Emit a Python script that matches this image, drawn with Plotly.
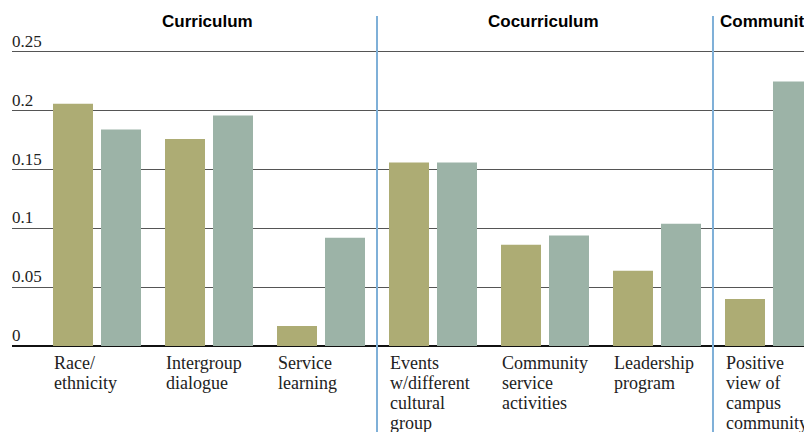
import plotly.graph_objects as go

categories = [["Race/", "ethnicity"], ["Intergroup", "dialogue"], ["Service", "learning"],
              ["Events", "w/different", "cultural", "group"], ["Community", "service", "activities"],
              ["Leadership", "program"], ["Positive", "view of", "campus", "community"]]
series_a = [0.206, 0.176, 0.017, 0.156, 0.086, 0.064, 0.040]
series_b = [0.184, 0.196, 0.092, 0.156, 0.094, 0.104, 0.225]
y_ticks = [0, 0.05, 0.1, 0.15, 0.2, 0.25]
y_tick_labels = ["0", "0.05", "0.1", "0.15", "0.2", "0.25"]
sections = ["Curriculum", "Cocurriculum", "Community"]
section_centers = [1, 4, 6]
dividers = [2.5, 5.5]

OLIVE = "#adac74"
SAGE = "#9cb3a7"
SERIF = "Liberation Serif"

x = list(range(len(categories)))

fig = go.Figure()
fig.add_trace(go.Bar(x=x, y=series_a, marker_color=OLIVE, marker_line_width=0, name="A"))
fig.add_trace(go.Bar(x=x, y=series_b, marker_color=SAGE, marker_line_width=0, name="B"))

# page body adds an 8px margin, so the figure is 8px smaller than the window
fig.update_layout(
    width=804, height=424,
    margin=dict(l=4, r=0, t=22, b=86),
    paper_bgcolor="white", plot_bgcolor="white",
    showlegend=False,
    barmode="group", bargap=0.1429, bargroupgap=0.1667,
    xaxis=dict(range=[-0.759, 6.384], showticklabels=False, showgrid=False,
               zeroline=False, showline=False, fixedrange=True),
    yaxis=dict(range=[0, 0.2687], tickvals=y_ticks, showticklabels=False,
               showgrid=True, gridcolor="#555555", gridwidth=1.3,
               zeroline=True, zerolinecolor="#111111", zerolinewidth=2,
               fixedrange=True),
)

# y tick labels sit above the gridlines, flush left
for v, t in zip(y_ticks, y_tick_labels):
    fig.add_annotation(x=0, xref="paper", xanchor="left", xshift=-2, y=v, yref="y",
                       yanchor="bottom", yshift=-1, text=t, showarrow=False,
                       font=dict(family=SERIF, size=17, color="#222222"))

# category labels, left aligned under the first bar, one line each
for i, lines in enumerate(categories):
    for k, line in enumerate(lines):
        fig.add_annotation(x=i, xref="x", xshift=-45, xanchor="left", y=0, yref="paper",
                           yanchor="top", yshift=-5 - 20 * k, text=line, showarrow=False,
                           align="left", font=dict(family=SERIF, size=18, color="#222222"))

# section headings
for s, cx in zip(sections, section_centers):
    fig.add_annotation(x=cx, xref="x", xanchor="center", xshift=-2, y=0.25, yref="y",
                       yanchor="middle", yshift=30, text="<b>%s</b>" % s, showarrow=False,
                       font=dict(family="Liberation Sans", size=17, color="black"))

# section dividers
for d in dividers:
    fig.add_shape(type="line", x0=d, x1=d, xref="x", y0=-0.272, y1=1.044, yref="paper",
                  line=dict(color="#7fb0d8", width=2), layer="above")

fig.write_html("out.html")
